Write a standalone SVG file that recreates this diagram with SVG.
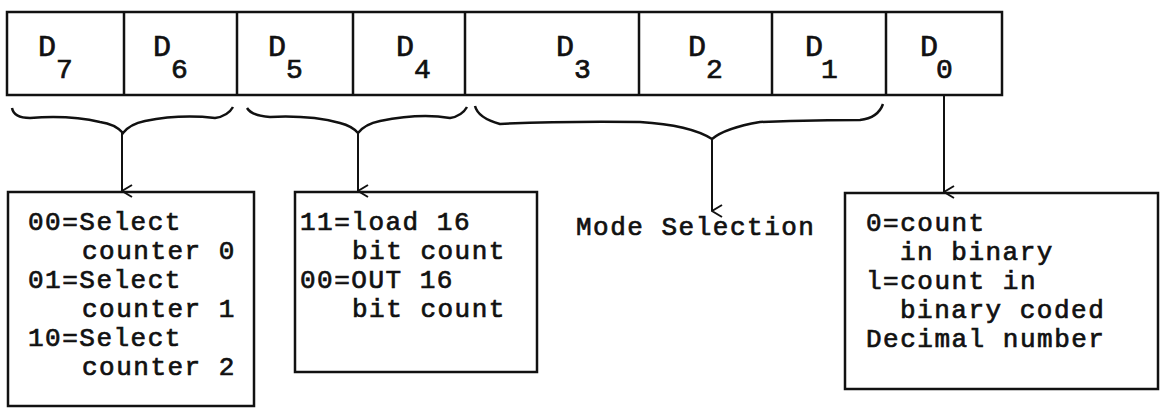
<svg xmlns="http://www.w3.org/2000/svg" width="1161" height="418" viewBox="0 0 1161 418">
<defs>
<style>
.ln{fill:none;stroke:#111;stroke-width:2.5}
.thin{fill:none;stroke:#111;stroke-width:2}
.t,.d,.s{font-family:"Liberation Mono","Courier New",monospace;fill:#111;stroke:#111;stroke-width:0.7px}
.t{font-size:26px;letter-spacing:1.5px}
.d{font-size:30px}
.s{font-size:28px}
</style>
<marker id="ah" markerWidth="14" markerHeight="12" refX="7" refY="11" orient="auto" markerUnits="userSpaceOnUse" viewBox="0 0 14 12">
<path d="M1,1 L7,11 L13,1" fill="none" stroke="#111" stroke-width="2"/>
</marker>
</defs>
<rect width="1161" height="418" fill="#fff"/>
<g id="register">
<rect class="ln" x="7" y="12" width="995" height="83" stroke-width="3"/>
<path class="ln" d="M124,12V95M237,12V95M353,12V95M465,12V95M639,12V95M772,12V95M886,12V95"/>
<text class="d" x="38" y="56">D</text><text class="s" x="56" y="78">7</text>
<text class="d" x="153" y="56">D</text><text class="s" x="171" y="78">6</text>
<text class="d" x="268" y="56">D</text><text class="s" x="286" y="78">5</text>
<text class="d" x="396" y="56">D</text><text class="s" x="414" y="78">4</text>
<text class="d" x="556" y="56">D</text><text class="s" x="574" y="78">3</text>
<text class="d" x="688" y="56">D</text><text class="s" x="706" y="78">2</text>
<text class="d" x="805" y="56">D</text><text class="s" x="821" y="78">1</text>
<text class="d" x="920" y="56">D</text><text class="s" x="936" y="78">0</text>
</g>
<g id="braces">
<path class="ln" d="M12,108 Q14,118 30,118 Q70,115 100,122 Q115,124 123,133 Q130,124 145,121 Q180,114 215,118 Q228,116 233,107"/>
<path class="ln" d="M247,108 Q252,116 270,117 Q310,115 340,123 Q352,126 358,133 Q365,124 380,121 Q420,113 450,118 Q462,116 467,107"/>
<path class="ln" d="M475,106 Q478,118 500,124 Q560,121 640,122 Q690,125 712,139 Q725,128 760,122 Q820,120 860,120 Q878,118 883,104"/>
</g>
<g id="connectors">
<path class="thin" d="M122,133V191" marker-end="url(#ah)"/>
<path class="thin" d="M358,133V191" marker-end="url(#ah)"/>
<path class="thin" d="M712,139V211" marker-end="url(#ah)"/>
<path class="thin" d="M944,95V192" marker-end="url(#ah)"/>
</g>
<g id="box-counter">
<rect class="ln" x="8" y="192" width="246" height="214"/>
<text class="t" x="28" y="230">00=Select</text>
<text class="t" x="82" y="259">counter 0</text>
<text class="t" x="28" y="288">01=Select</text>
<text class="t" x="82" y="317">counter 1</text>
<text class="t" x="28" y="346">10=Select</text>
<text class="t" x="82" y="375">counter 2</text>
</g>
<g id="box-rw">
<rect class="ln" x="295" y="192" width="242" height="180"/>
<text class="t" x="300" y="230">11=load 16</text>
<text class="t" x="352" y="259">bit count</text>
<text class="t" x="300" y="288">00=OUT 16</text>
<text class="t" x="352" y="317">bit count</text>
</g>
<g id="mode-selection">
<text class="t" x="576" y="235">Mode Selection</text>
</g>
<g id="box-bcd">
<rect class="ln" x="845" y="193" width="313" height="196"/>
<text class="t" x="866" y="231">0=count</text>
<text class="t" x="900" y="260">in binary</text>
<text class="t" x="866" y="289">l=count in</text>
<text class="t" x="900" y="318">binary coded</text>
<text class="t" x="866" y="347">Decimal number</text>
</g>
</svg>
